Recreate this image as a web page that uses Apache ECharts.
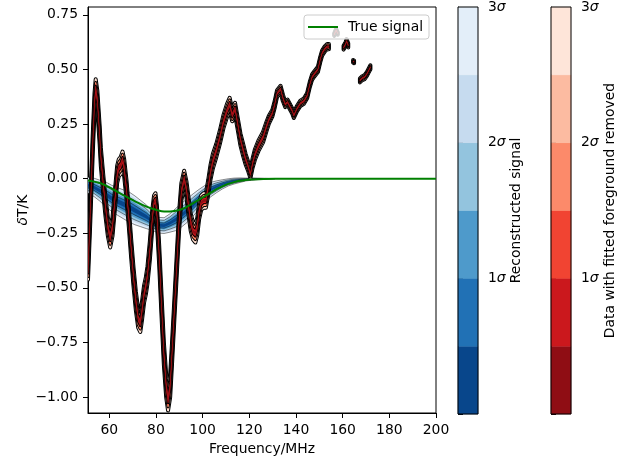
<!DOCTYPE html>
<html><head><meta charset="utf-8">
<script src="https://cdn.jsdelivr.net/npm/echarts@6/dist/echarts.min.js"></script>
<style>html,body{margin:0;padding:0;background:#fff}#c{width:638px;height:460px}</style>
</head><body><div id="c"></div>
<script>
// ---------- tick labels / levels ----------
const xTicks = [60, 80, 100, 120, 140, 160, 180, 200];
const yTicks = [-1, -0.75, -0.5, -0.25, 0, 0.25, 0.5, 0.75];
const sigmaLevels = [0.5, 1, 1.5, 2, 2.5, 3];
const contourLineLevels = [1, 2, 3];
const cbTickValues = [0, 1, 2, 3];
const cbLabelValues = [1, 2, 3];

// ---------- data with fitted foreground removed (red) ----------
const redFreq = [50.9,51.9,52.9,53.7,54.2,54.9,55.9,56.4,57.4,58.4,59.4,60.4,61.4,62.4,63.4,64.1,64.9,65.7,66.4,67.4,68.4,69.4,70.4,71.4,72.4,73.3,74.1,74.9,75.7,76.4,77.4,78.4,79.2,79.8,80.4,81.4,82.4,83.4,84.4,85.2,86.1,86.9,87.9,88.9,89.9,90.9,92.1,93.1,93.9,94.9,95.9,96.9,97.7,98.5,99.4,100.4,101.4,102.4,103.4,104.4,105.9,107.4,108.9,110.4,111.6,112.7,113.9,114.9,116.2,117.4,118.4,119.4,120.5,121.4,122.4,123.9,125.9,127.4,128.4,129.9,130.9,131.9,133.4,134.4,135.4,136.4,137.4,138.4,139.1,140.4,141.9,143.4,144.8,145.9,146.9,147.9,149.4,150.4,151.2,152.4,153.4,154.1,
  155.0,
  156.4,157.2,157.9,
  159.0,
  160.4,161.2,161.7,162.4,
  163.5,
  164.5,164.9,
  166.0,
  167.4,168.4,169.4,170.4,171.4,171.9];
const redCenter = [-0.42,-0.15,0.15,0.35,0.41,0.36,0.20,0.10,-0.02,-0.13,-0.22,-0.27,-0.22,-0.10,0.02,0.05,0.06,0.085,0.05,-0.05,-0.18,-0.32,-0.45,-0.56,-0.64,-0.66,-0.60,-0.53,-0.49,-0.44,-0.33,-0.19,-0.11,-0.10,-0.16,-0.35,-0.58,-0.80,-0.95,-1.01,-0.95,-0.80,-0.60,-0.40,-0.20,-0.06,0.00,-0.05,-0.12,-0.20,-0.24,-0.25,-0.22,-0.15,-0.11,-0.10,-0.10,-0.04,0.03,0.08,0.13,0.19,0.26,0.31,0.34,0.29,0.32,0.26,0.18,0.13,0.09,0.06,0.02,0.07,0.11,0.15,0.19,0.24,0.27,0.30,0.34,0.39,0.41,0.37,0.34,0.35,0.33,0.31,0.29,0.32,0.345,0.355,0.38,0.43,0.465,0.48,0.50,0.545,0.575,0.595,0.605,0.605,
  null,
  0.66,0.68,0.665,
  null,
  0.60,0.615,0.63,0.61,
  null,
  0.537,0.535,
  null,
  0.45,0.46,0.465,0.48,0.50,0.51];
const redSigma = [0.014,0.014,0.014,0.014,0.015,0.014,0.014,0.014,0.014,0.014,0.014,0.015,0.014,0.014,0.013,0.013,0.013,0.013,0.013,0.014,0.014,0.014,0.014,0.014,0.014,0.014,0.014,0.013,0.013,0.013,0.014,0.014,0.011,0.011,0.013,0.015,0.016,0.017,0.017,0.017,0.017,0.016,0.015,0.015,0.014,0.013,0.012,0.012,0.013,0.013,0.013,0.014,0.013,0.012,0.011,0.011,0.011,0.011,0.011,0.011,0.010,0.010,0.010,0.010,0.010,0.009,0.009,0.009,0.009,0.009,0.008,0.007,0.006,0.007,0.008,0.008,0.008,0.007,0.006,0.005,0.005,0.005,0.005,0.005,0.004,0.004,0.004,0.004,0.004,0.004,0.004,0.004,0.004,0.004,0.004,0.004,0.004,0.004,0.004,0.004,0.004,0.004,
  null,
  0.002,0.002,0.002,
  null,
  0.003,0.003,0.003,0.003,
  null,
  0.002,0.002,
  null,
  0.003,0.003,0.003,0.003,0.003,0.003];

// ---------- reconstructed signal (blue) ----------
const blueFreq = [50.9,53.5,56,58.5,61,63.5,66,68.5,71,73.5,76,78.5,81,83.5,86,88.5,91,93.5,96,98.5,101,103.5,106,108.5,111,113.5,116,118.5,121,123.5,126,128.5,131];
const blueCenter = [-0.030,-0.040,-0.055,-0.072,-0.090,-0.104,-0.117,-0.130,-0.145,-0.160,-0.175,-0.195,-0.213,-0.215,-0.203,-0.187,-0.167,-0.145,-0.120,-0.094,-0.070,-0.050,-0.037,-0.026,-0.017,-0.011,-0.007,-0.004,-0.002,-0.001,0.000,0.000,0.000];
const blueSigma = [0.012,0.014,0.016,0.019,0.020,0.021,0.022,0.023,0.022,0.020,0.018,0.014,0.012,0.012,0.014,0.017,0.018,0.018,0.017,0.015,0.013,0.011,0.009,0.007,0.0055,0.0045,0.0035,0.0022,0.0017,0.0011,0.0006,0.0003,0.0002];

// ---------- true signal (green) ----------
const trueFreq = [50.9,56,61,66,71,76,78.5,81,83.5,86,88.5,91,93.5,96,98.5,101,103.5,106,108.5,111,113.5,116,118.5,121,126,131,200];
const trueSignal = [-0.008,-0.020,-0.045,-0.075,-0.104,-0.128,-0.138,-0.146,-0.150,-0.150,-0.147,-0.140,-0.127,-0.112,-0.096,-0.080,-0.064,-0.048,-0.035,-0.024,-0.016,-0.010,-0.006,-0.004,-0.001,0,0];

// ---------- colours ----------
const blueColors = ['#08468b', '#2171b5', '#4e9acb', '#93c4de', '#c6dbef', '#e3eef9'];
const redColors  = ['#8f0d14', '#cb181d', '#f14432', '#fc8a6a', '#fcbba1', '#fee5d9'];

const FONT = 'DejaVu Sans';
const FS = 13.9;

function segmentsOf(center) {
  const segs = []; let cur = [];
  center.forEach((v, i) => {
    if (v === null) { if (cur.length) segs.push(cur); cur = []; }
    else cur.push(i);
  });
  if (cur.length) segs.push(cur);
  return segs;
}

// opts.spread: extra stroke width per level (pixels) to mimic the gridded contour thickness
function bandRenderer(freq, center, sigma, colors, opts) {
  const segs = segmentsOf(center);
  return function (params, api) {
    const children = [];
    const boundary = (seg, L, s) => seg.map(i => api.coord([freq[i], center[i] + s * L * sigma[i]]));
    const poly = (seg, L) => boundary(seg, L, 1).concat(boundary(seg, L, -1).reverse());
    segs.forEach(seg => {
      for (let k = sigmaLevels.length - 1; k >= 0; k--) {
        const L = sigmaLevels[k];
        const pts = poly(seg, L);
        const sw = opts.spread ? opts.spread[k] : 0;
        if (opts.spread && contourLineLevels.indexOf(L) >= 0) {
          children.push({ type: 'polygon', shape: { points: pts },
            style: { fill: '#000', stroke: '#000', lineWidth: sw + 2 * opts.lw, lineJoin: 'round' } });
        }
        children.push({ type: 'polygon', shape: { points: pts },
          style: { fill: colors[k], stroke: sw > 0 ? colors[k] : null, lineWidth: sw, lineJoin: 'round' } });
      }
      if (!opts.spread) {
        contourLineLevels.forEach(L => {
          [1, -1].forEach(s => {
            children.push({ type: 'polyline', shape: { points: boundary(seg, L, s) },
              style: { fill: null, stroke: '#000', lineWidth: opts.lw } });
          });
        });
      }
    });
    return { type: 'group', children };
  };
}

function colorbarSeries(idx, colors) {
  const data = [];
  for (let i = 0; i < sigmaLevels.length; i++) {
    data.push([i === 0 ? 0 : sigmaLevels[i - 1], sigmaLevels[i]]);
  }
  return {
    type: 'custom', xAxisIndex: idx, yAxisIndex: idx, silent: true,
    encode: { x: -1, y: [0, 1] },
    data,
    renderItem: function (params, api) {
      const p0 = api.coord([0, api.value(0)]);
      const p1 = api.coord([1, api.value(1)]);
      const children = [{ type: 'rect',
        shape: { x: p0[0], y: p1[1], width: p1[0] - p0[0], height: p0[1] - p1[1] },
        style: { fill: colors[params.dataIndex], stroke: colors[params.dataIndex], lineWidth: 0.5 } }];
      if (params.dataIndex === data.length - 1) {
        const a = api.coord([0, 0]), b = api.coord([1, 3]);
        children.push({ type: 'rect', z2: 10,
          shape: { x: a[0], y: b[1], width: b[0] - a[0], height: a[1] - b[1] },
          style: { fill: null, stroke: '#000', lineWidth: 1 } });
      }
      return { type: 'group', children };
    }
  };
}

const sigmaLabel = {
  customValues: cbLabelValues,
  margin: 10,
  formatter: v => v + '{s|σ}',
  color: '#000', fontFamily: FONT, fontSize: FS,
  rich: { s: { fontStyle: 'italic', fontFamily: FONT, fontSize: FS, color: '#000' } }
};

function cbYAxis(gridIndex, name, gap) {
  return {
    type: 'value', gridIndex, position: 'right', min: 0, max: 3,
    name, nameLocation: 'middle', nameRotate: 90, nameGap: gap, nameMoveOverlap: false,
    nameTextStyle: { fontFamily: FONT, fontSize: FS, color: '#000' },
    axisLine: { show: true, lineStyle: { color: '#000', width: 1 } },
    axisTick: { show: true, customValues: cbTickValues, length: 5, lineStyle: { color: '#000', width: 1 } },
    axisLabel: sigmaLabel,
    splitLine: { show: false }
  };
}

const chart = echarts.init(document.getElementById('c'), null, { renderer: 'canvas' });
chart.setOption({
  animation: false,
  backgroundColor: '#fff',
  grid: [
    { left: 88, top: 7, width: 348, height: 406, show: true, borderColor: '#000', borderWidth: 1,
      backgroundColor: 'transparent', outerBoundsMode: 'none', containLabel: false },
    { left: 458, top: 7, width: 20, height: 407, outerBoundsMode: 'none', containLabel: false },
    { left: 551, top: 7, width: 20, height: 407, outerBoundsMode: 'none', containLabel: false }
  ],
  xAxis: [
    { type: 'value', gridIndex: 0, min: 50.9, max: 200,
      name: 'Frequency/MHz', nameLocation: 'middle', nameGap: 29, nameMoveOverlap: false,
      nameTextStyle: { fontFamily: FONT, fontSize: FS, color: '#000' },
      axisLine: { show: true, onZero: false, lineStyle: { color: '#000', width: 1 } },
      axisTick: { show: true, customValues: xTicks, length: 5, lineStyle: { color: '#000' } },
      axisLabel: { customValues: xTicks, margin: 10, color: '#000', fontFamily: FONT, fontSize: FS },
      splitLine: { show: false } },
    { type: 'value', gridIndex: 1, min: 0, max: 1, show: false },
    { type: 'value', gridIndex: 2, min: 0, max: 1, show: false }
  ],
  yAxis: [
    { type: 'value', gridIndex: 0, min: -1.073, max: 0.786,
      name: '{i|δ}T/K', nameLocation: 'middle', nameRotate: 90, nameGap: 58, nameMoveOverlap: false,
      nameTextStyle: { fontFamily: FONT, fontSize: FS, color: '#000',
        rich: { i: { fontStyle: 'italic', fontFamily: FONT, fontSize: FS, color: '#000' } } },
      axisLine: { show: true, onZero: false, lineStyle: { color: '#000', width: 1 } },
      axisTick: { show: true, customValues: yTicks, length: 5, lineStyle: { color: '#000' } },
      axisLabel: { customValues: yTicks, margin: 10, color: '#000', fontFamily: FONT, fontSize: FS,
        formatter: v => (v < 0 ? '\u2212' : '') + Math.abs(v).toFixed(2) },
      splitLine: { show: false } },
    cbYAxis(1, 'Reconstructed signal', 31),
    cbYAxis(2, 'Data with fitted foreground removed', 32)
  ],
  legend: {
    data: [{ name: 'True signal', icon: 'path://M0,0L30,0L30,2L0,2Z' }],
    right: 209, top: 15, z: 50,
    orient: 'horizontal', padding: [5, 6, 5, 4],
    backgroundColor: 'rgba(255,255,255,0.8)', borderColor: '#cccccc', borderWidth: 1, borderRadius: 3,
    itemWidth: 30, itemHeight: 2,
    itemStyle: { color: '#008000' },
    textStyle: { fontFamily: FONT, fontSize: FS, color: '#000', padding: [0, 0, 0, 5] }
  },
  series: [
    { type: 'custom', name: 'Reconstructed signal', xAxisIndex: 0, yAxisIndex: 0, z: 2, clip: true, silent: true,
      data: [[blueFreq[0], blueCenter[0]]],
      renderItem: bandRenderer(blueFreq, blueCenter, blueSigma, blueColors, { lw: 0.45 }) },
    { type: 'custom', name: 'Data with fitted foreground removed', xAxisIndex: 0, yAxisIndex: 0, z: 3, clip: true, silent: true,
      data: [[redFreq[0], redCenter[0]]],
      renderItem: bandRenderer(redFreq, redCenter, redSigma, redColors,
        { lw: 1.0, spread: [0, 0.4, 0.8, 1.2, 1.6, 2.0] }) },
    { type: 'line', name: 'True signal', xAxisIndex: 0, yAxisIndex: 0, z: 4,
      data: trueFreq.map((f, i) => [f, trueSignal[i]]),
      showSymbol: false, symbol: 'none', smooth: 0.3,
      lineStyle: { color: '#008000', width: 2 }, itemStyle: { color: '#008000' } },
    colorbarSeries(1, blueColors),
    colorbarSeries(2, redColors)
  ]
});
</script>
</body></html>
